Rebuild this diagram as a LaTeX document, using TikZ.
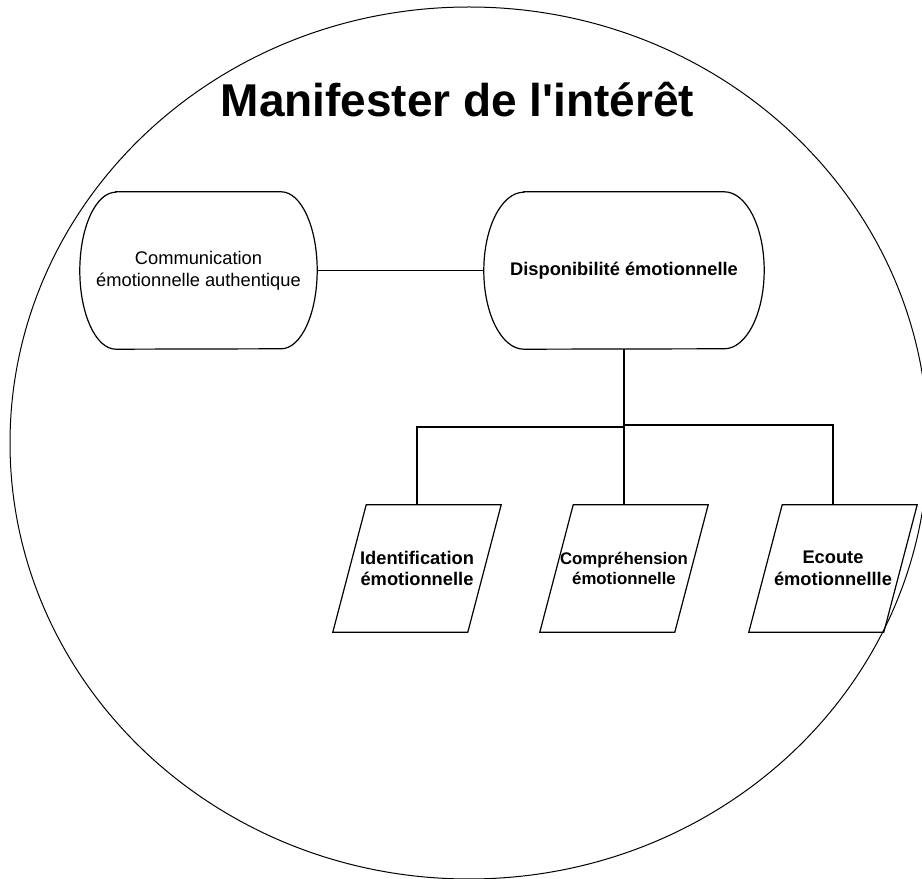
\documentclass[tikz,border=0pt]{standalone}
\usepackage{fontspec}
\setmainfont{Liberation Sans}
\begin{document}
\begin{tikzpicture}[x=1pt,y=1pt,
  lw/.style={line width=1.2pt},
  box/.style={draw=none,minimum width=#1,minimum height=157pt,inner sep=0pt,align=center},
  para/.style={draw=none,minimum width=168pt,minimum height=127pt,inner sep=0pt,align=center},
  big/.style={font=\fontsize{18.3}{21.8}\selectfont},
  bigb/.style={font=\fontsize{18.3}{21.8}\selectfont\bfseries},
  smallb/.style={font=\fontsize{16.8}{20}\selectfont\bfseries},
  conn/.style={line width=1.2pt}]
\useasboundingbox (0,0) rectangle (922,879);
\clip (0,0) rectangle (922,879);
\fill[white] (0,0) rectangle (922,879);
% outer ellipse
\draw[line width=1pt] (469,436) ellipse [x radius=459, y radius=436];
% title
\node[anchor=base,font=\fontsize{46}{55}\selectfont\bfseries,inner sep=0pt] (title) at (457.5,762) {Manifester de l\textquotesingle intérêt};
% terminator nodes
\node[box=237pt,big] (comm) at (198.5,608.5) {Communication\\émotionnelle authentique};
\node[box=280pt,bigb] (dispo) at (624,608.5) {Disponibilité émotionnelle};
\foreach \n/\r in {comm/36,dispo/40}{
  \draw[lw] ([xshift=\r pt]\n.north west) -- ([xshift=-\r pt]\n.north east)
    arc[start angle=90,end angle=-90,x radius=\r,y radius=78.5]
    -- ([xshift=\r pt]\n.south west)
    arc[start angle=270,end angle=90,x radius=\r,y radius=78.5] -- cycle;
}
% parallelograms
\node[para,bigb] (ident) at (417,310.5) {Identification\\émotionnelle};
\node[para,smallb] (compr) at (624,310.5) {Compréhension\\émotionnelle};
\node[para,bigb] (ecout) at (833,310.5) {Ecoute\\émotionnellle};
\foreach \n in {ident,compr,ecout}{
  \draw[lw] (\n.south west) -- ++(135,0) -- (\n.north east) -- ++(-135,0) -- cycle;
}
% connectors
\coordinate (jl) at (624,452);
\coordinate (jr) at (624,454);
\draw[conn] (comm.east) -- (dispo.west);
\draw[conn] (dispo.south) -- (compr.north);
\draw[conn] (jl) -| (ident.north);
\draw[conn] (jr) -| (ecout.north);
\end{tikzpicture}
\end{document}
